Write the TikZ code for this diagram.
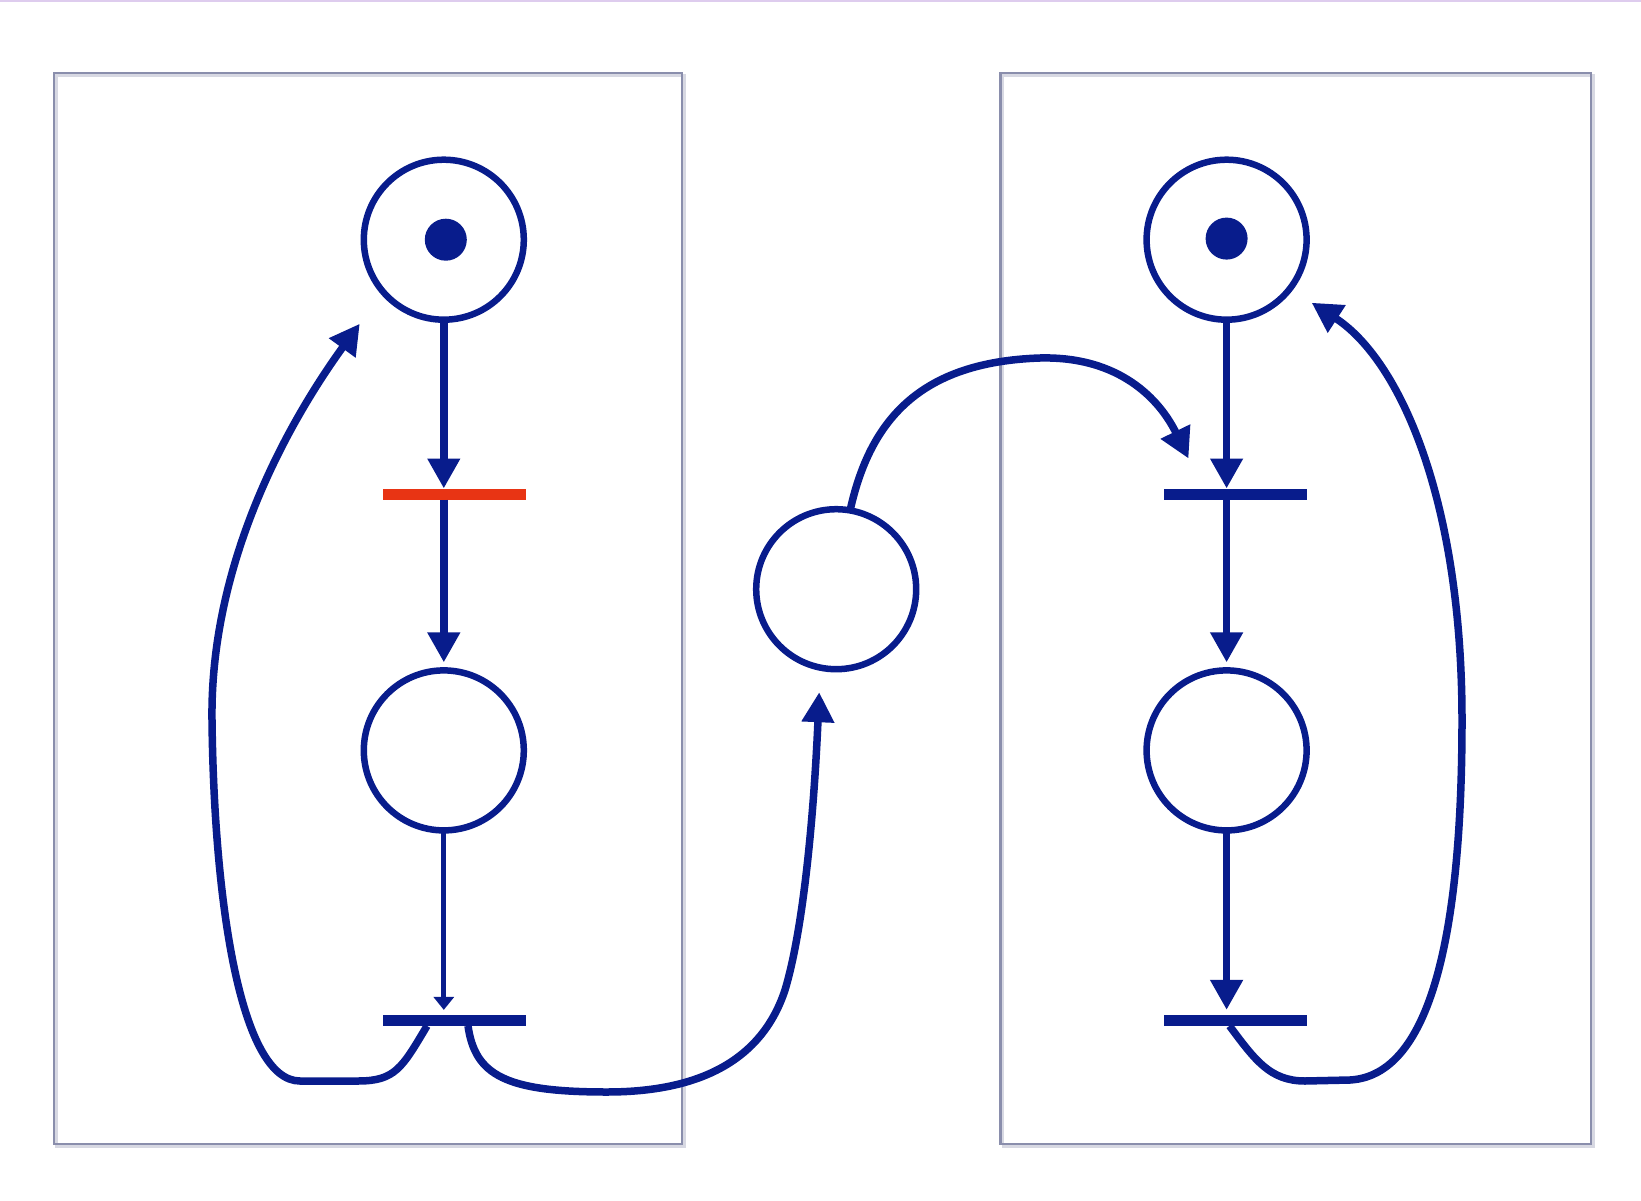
\documentclass[tikz,border=0pt]{standalone}
\usetikzlibrary{arrows.meta,calc}
\definecolor{netblue}{RGB}{8,28,140}
\definecolor{firered}{RGB}{232,52,20}
\definecolor{framegray}{RGB}{138,142,172}
\definecolor{shadegray}{RGB}{215,216,226}
\definecolor{topline}{RGB}{222,204,238}
\begin{document}
\begin{tikzpicture}[x=1pt,y=-1pt,
  place/.style={circle,draw=netblue,line width=6.5pt,minimum size=160pt,inner sep=0pt,outer sep=0pt},
  token/.style={circle,fill=netblue,minimum size=42pt,inner sep=0pt,outer sep=0pt},
  trans/.style={rectangle,fill=#1,minimum width=143pt,minimum height=11pt,inner sep=0pt,outer sep=0pt},
  trans/.default=netblue,
  arc/.style={draw=netblue,line width=7.5pt,-{Triangle[length=30pt,width=31pt]}},
  thinarc/.style={draw=netblue,line width=5pt,-{Triangle[length=13pt,width=20pt]}},
  frame/.style={draw=framegray,line width=2.5pt},
  shade/.style={draw=shadegray,line width=2.5pt}]

% canvas
\useasboundingbox (0,0) rectangle (1641,1201);
\fill[white] (0,0) rectangle (1641,1201);
\fill[topline] (0,0) rectangle (1641,2.5);

% the two process frames, with a light drop shadow
\draw[shade] (56.5,75.5) rectangle (684.5,1146.5);
\draw[shade] (1003,75.5) rectangle (1593.5,1146.5);
\draw[frame] (54,73) rectangle (682,1144);
\draw[frame] (1000.5,73) rectangle (1591,1144);

% places
\node[place] (pL1) at (443.8,239.7) {};
\node[place] (pL2) at (443.8,750.4) {};
\node[place] (pM)  at (836.2,589.2) {};
\node[place] (pR1) at (1226.6,239.7) {};
\node[place] (pR2) at (1226.6,750.4) {};

% tokens
\node[token] (kL) at (445.8,239.7) {};
\node[token] (kR) at (1226.6,238.6) {};

% transitions
\node[trans=firered] (tL1) at (454.5,494) {};
\node[trans] (tL2) at (454,1020.4) {};
\node[trans] (tR1) at (1235.5,494) {};
\node[trans] (tR2) at (1235.5,1020.4) {};

% straight arcs, left process
\draw[arc] (pL1.south) -- (pL1.south |- tL1.north);
\draw[arc] (pL1.south |- tL1.south) -- ($(pL2.north)+(0,-8)$);
\draw[thinarc] (pL2.south) -- ($(pL2.south |- tL2.north)+(0,-5)$);

% straight arcs, right process
\draw[arc] (pR1.south) -- (pR1.south |- tR1.north);
\draw[arc] (pR1.south |- tR1.south) -- ($(pR2.north)+(0,-8)$);
\draw[arc] (pR2.south) -- ($(pR2.south |- tR2.north)+(0,-5)$);

% free ends of the curved arcs
\coordinate (bL) at ($(tL2.south)+(-27,0)$);
\coordinate (bM) at ($(tL2.south)+(14,0)$);
\coordinate (mIn) at ($(pM.south)+(-17,23)$);
\coordinate (rIn) at ($(tR1.north)+(-47,-30)$);
\coordinate (bR) at ($(tR2.south)+(-6,0)$);
\coordinate (pR1In) at ($(pR1.center)+(85,63)$);
\coordinate (pL1In) at ($(pL1.center)+(-84,84)$);

% curved arcs
\draw[arc] (bL) .. controls (402,1068) and (395,1081) .. (358,1081)
  -- (300,1081) .. controls (240,1081) and (214,900) .. (212,720)
  .. controls (210,560) and (290,420) .. (pL1In);
\draw[arc] (bM) .. controls (475,1075) and (505,1092) .. (607,1092)
  .. controls (700,1092) and (762,1060) .. (785,990)
  .. controls (806,920) and (815,790) .. (mIn);
\draw[arc] (pM.80) .. controls (870,420) and (920,362) .. (1040,358)
  .. controls (1120,356) and (1160,400) .. (rIn);
\draw[arc] (bR) .. controls (1255,1060) and (1270,1081) .. (1305,1081)
  -- (1350,1080) .. controls (1440,1075) and (1462,900) .. (1462,720)
  .. controls (1462,500) and (1400,360) .. (pR1In);
\end{tikzpicture}
\end{document}
